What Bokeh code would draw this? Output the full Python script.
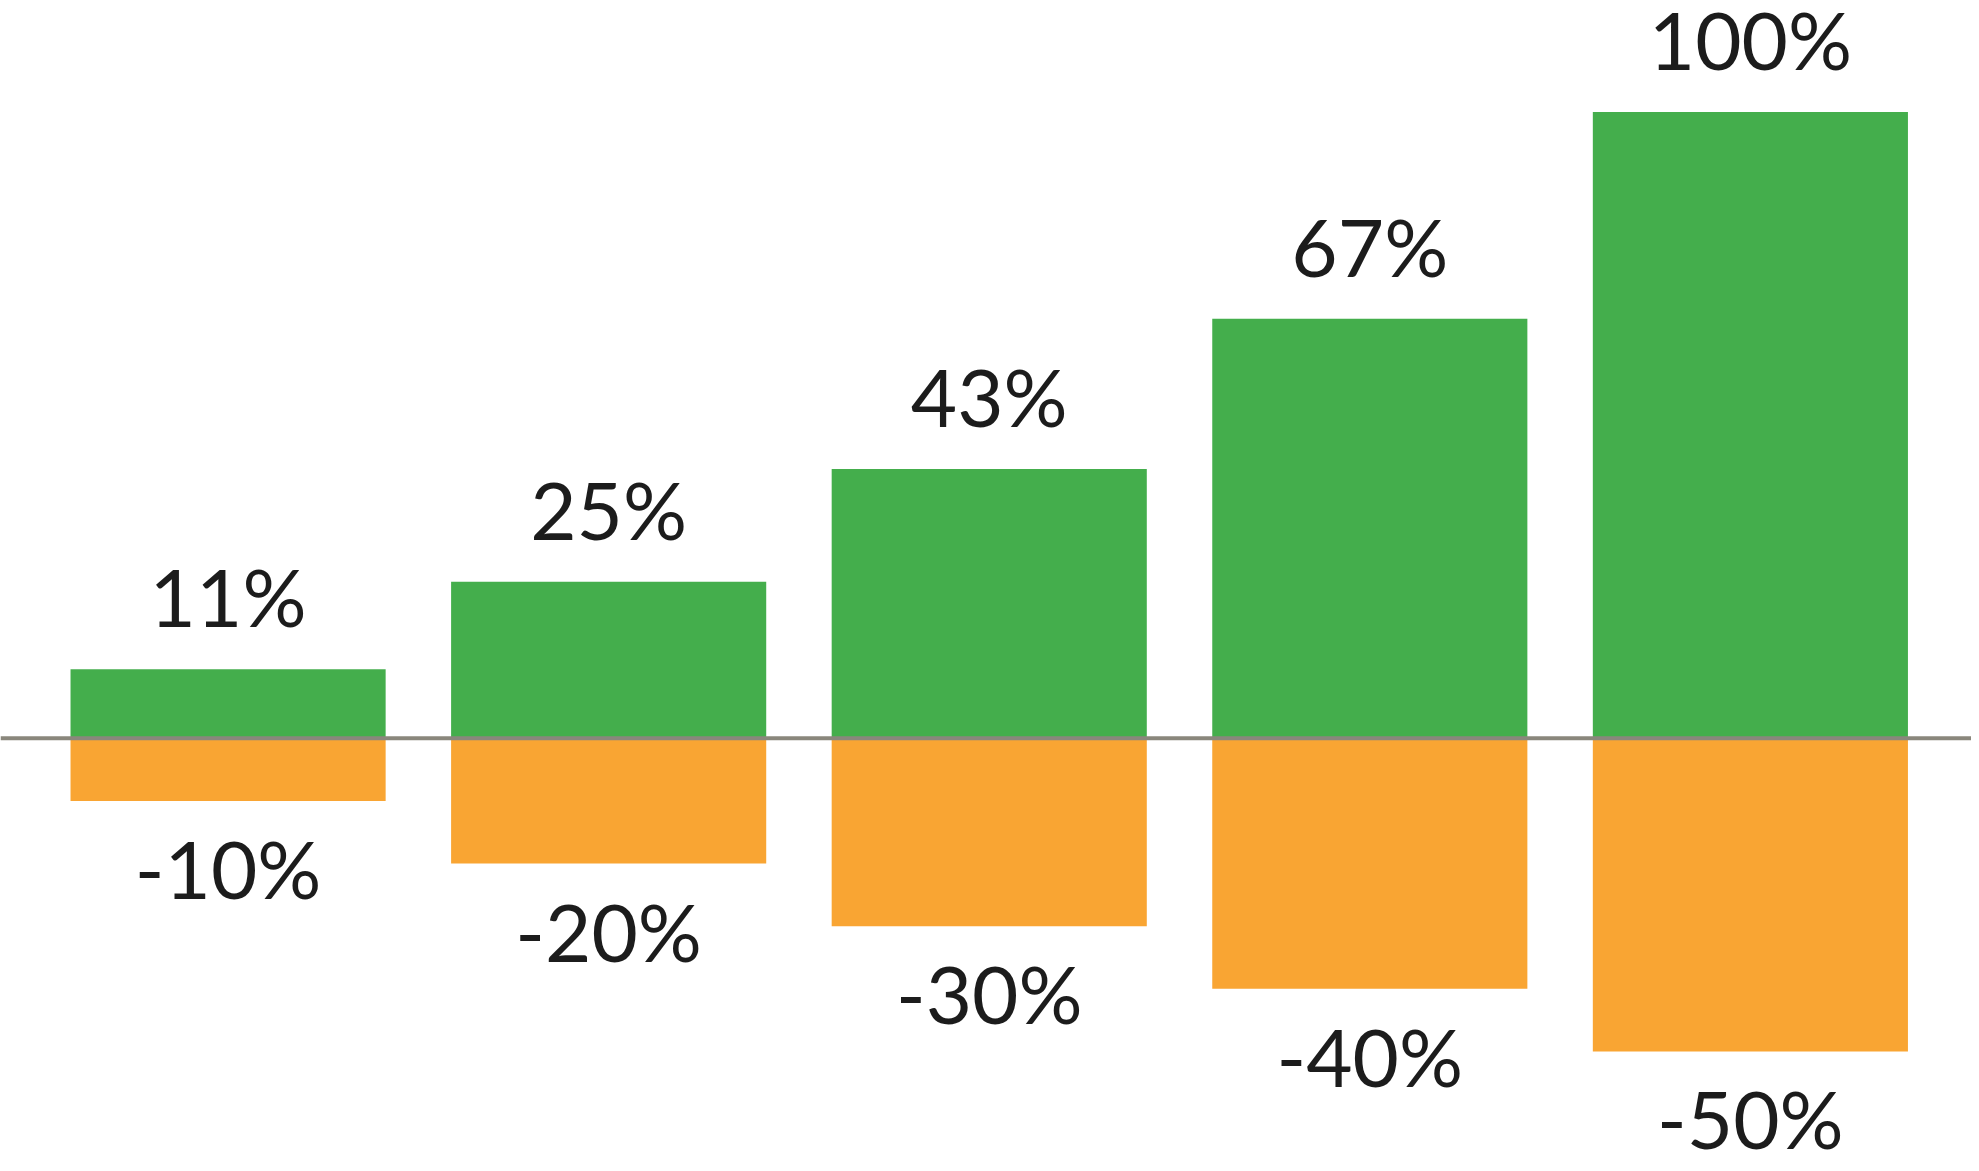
from bokeh.plotting import figure
from bokeh.models import ColumnDataSource, Span, Range1d
from bokeh.core.properties import value
from bokeh.embed import file_html
from bokeh.resources import INLINE

groups = [0, 1, 2, 3, 4]
gains = [11, 25, 43, 67, 100]
losses = [-10, -20, -30, -40, -50]
gain_labels = ["11%", "25%", "43%", "67%", "100%"]
loss_labels = ["-10%", "-20%", "-30%", "-40%", "-50%"]

GREEN = "#44ae4c"
ORANGE = "#f9a533"

W, H = 1971, 1163
p = figure(width=W, height=H, output_backend="svg", toolbar_location=None,
           x_range=Range1d(-0.598, 4.581), y_range=Range1d(-67.9, 117.8),
           min_border=0, outline_line_color=None)
p.axis.visible = False
p.grid.visible = False
p.background_fill_color = "white"
p.border_fill_color = "white"

src_g = ColumnDataSource(dict(x=groups, top=gains, label=gain_labels))
src_l = ColumnDataSource(dict(x=groups, top=losses, label=loss_labels))

p.vbar(x="x", top="top", bottom=0, width=0.828, source=src_g,
       fill_color=GREEN, line_color=None)
p.vbar(x="x", top="top", bottom=0, width=0.828, source=src_l,
       fill_color=ORANGE, line_color=None)

p.add_layout(Span(location=0, dimension="width", line_color="#8a877c", line_width=4))

p.text(x="x", y="top", text="label", source=src_g, text_align="center",
       text_baseline="alphabetic", y_offset=-73, text_font=value("Lato"),
       text_font_size="80px", text_color="#1c1c1c")
p.text(x="x", y="top", text="label", source=src_l, text_align="center",
       text_baseline="alphabetic", y_offset=67, text_font=value("Lato"),
       text_font_size="80px", text_color="#1c1c1c")

open("out.html", "w").write(file_html(p, INLINE))
